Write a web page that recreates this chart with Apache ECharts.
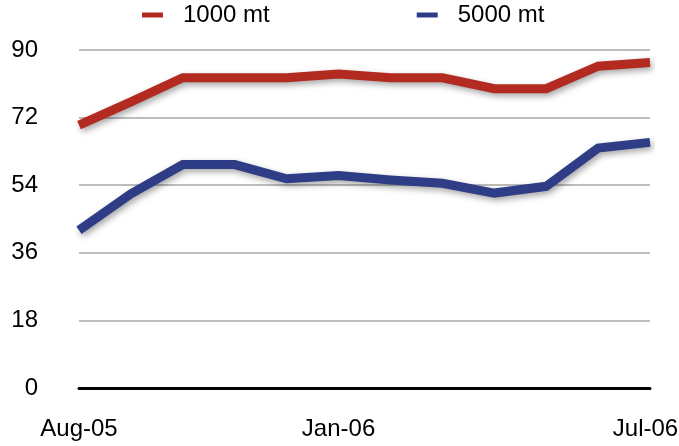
<!DOCTYPE html>
<html>
<head>
<meta charset="utf-8">
<script src="https://cdn.jsdelivr.net/npm/echarts@6/dist/echarts.min.js"></script>
<style>
  html, body { margin: 0; padding: 0; background: #fff; }
  #chart { width: 679px; height: 446px; }
</style>
</head>
<body>
<div id="chart"></div>
<script>
// Monthly categories, Aug 2005 – Jul 2006
const months = ['Aug-05', 'Sep-05', 'Oct-05', 'Nov-05', 'Dec-05', 'Jan-06',
                'Feb-06', 'Mar-06', 'Apr-06', 'May-06', 'Jun-06', 'Jul-06'];
// Series values
const series1000 = [70.0, 76.2, 82.6, 82.6, 82.6, 83.6, 82.6, 82.6, 79.7, 79.7, 85.7, 86.7];
const series5000 = [42.0, 51.7, 59.5, 59.5, 55.7, 56.6, 55.4, 54.5, 51.9, 53.7, 63.9, 65.4];
// Months that carry a visible label
const labelledMonths = ['Aug-05', 'Jan-06', 'Jul-06'];

const FONT = '"Liberation Sans", Arial, Helvetica, sans-serif';
const RED = '#B22A20';
const BLUE = '#2E3D86';

const chart = echarts.init(document.getElementById('chart'));

function lineSeries(name, data, color) {
  return {
    name: name,
    type: 'line',
    data: data,
    symbol: 'none',
    smooth: false,
    lineStyle: {
      color: color,
      width: 9,
      cap: 'butt',
      join: 'miter',
      shadowColor: 'rgba(0,0,0,0.35)',
      shadowBlur: 6,
      shadowOffsetX: 2,
      shadowOffsetY: 3
    },
    itemStyle: { color: color },
    emphasis: { disabled: true }
  };
}

const lastMonth = months[months.length - 1];

chart.setOption({
  animation: false,
  backgroundColor: '#fff',
  legend: {
    left: 137,
    top: -2,
    icon: 'rect',
    itemWidth: 21,
    itemHeight: 5,
    itemGap: 147,
    textStyle: {
      fontFamily: FONT,
      fontSize: 24,
      color: '#000',
      padding: [0, 0, 0, 15]
    },
    data: ['1000 mt', '5000 mt']
  },
  grid: {
    left: 79,
    right: 29,
    top: 50,
    bottom: 58,
    containLabel: false,
    outerBoundsMode: 'none'
  },
  xAxis: {
    type: 'category',
    data: months,
    boundaryGap: false,
    axisLine: { show: true, lineStyle: { color: '#000', width: 3 } },
    axisTick: { show: false },
    axisLabel: {
      interval: function (idx, value) { return labelledMonths.indexOf(value) >= 0; },
      // keep the final month label inside the right edge
      formatter: function (value) {
        return value === lastMonth ? '{last|' + value + '}' : value;
      },
      rich: {
        last: {
          fontFamily: FONT,
          fontSize: 24,
          color: '#000',
          padding: [0, 9, 0, 0]
        }
      },
      margin: 29,
      fontFamily: FONT,
      fontSize: 24,
      color: '#000',
      hideOverlap: false
    },
    splitLine: { show: false }
  },
  yAxis: {
    type: 'value',
    min: 0,
    max: 90,
    interval: 18,
    axisLine: { show: false },
    axisTick: { show: false },
    axisLabel: {
      margin: 41,
      fontFamily: FONT,
      fontSize: 24,
      color: '#000',
      padding: [8, 0, 0, 0]
    },
    splitLine: { show: true, lineStyle: { color: '#bdbdbd', width: 2 } }
  },
  series: [
    lineSeries('1000 mt', series1000, RED),
    lineSeries('5000 mt', series5000, BLUE)
  ]
});
</script>
</body>
</html>
